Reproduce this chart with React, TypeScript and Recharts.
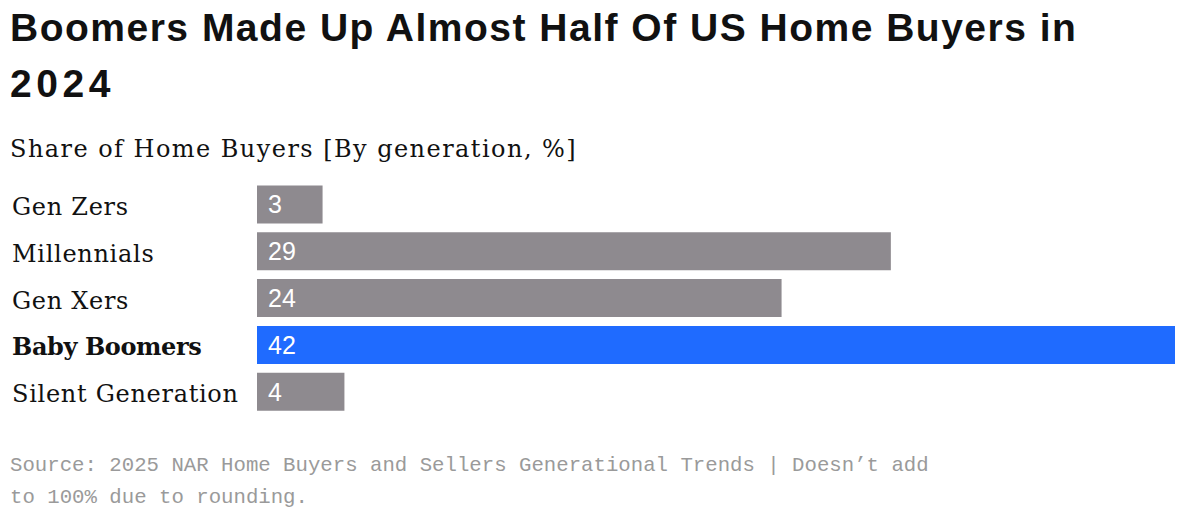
import React from "react";
import { BarChart, Bar, XAxis, YAxis, Cell, LabelList } from "recharts";

const categories = ["Gen Zers", "Millennials", "Gen Xers", "Baby Boomers", "Silent Generation"];
const shares = [3, 29, 24, 42, 4];
const highlighted = ["Baby Boomers"];

const title = "Boomers Made Up Almost Half Of US Home Buyers in";
const title2 = "2024";
const subtitle = "Share of Home Buyers [By generation, %]";
const source1 = "Source: 2025 NAR Home Buyers and Sellers Generational Trends | Doesn’t add";
const source2 = "to 100% due to rounding.";

const GREY = "#8e8a8f";
const BLUE = "#1f6bff";

const data = categories.map((c, i) => ({ name: c, value: shares[i] }));

const CategoryTick = (props: any) => {
  const { y, payload } = props;
  const bold = highlighted.includes(payload.value);
  return (
    <text
      x={12}
      y={y}
      dy={10}
      textAnchor="start"
      fontFamily="'DejaVu Serif', serif"
      fontSize={24}
      fontWeight={bold ? 700 : 400}
      letterSpacing={bold ? -0.4 : 0.7}
      fill="#111"
    >
      {payload.value}
    </text>
  );
};

export default function App() {
  return (
    <div
      style={{
        position: "fixed",
        left: 0,
        top: 0,
        width: 1198,
        height: 523,
        background: "#ffffff",
        overflow: "hidden",
      }}
    >
      <div
        style={{
          position: "absolute",
          left: 10,
          top: 0,
          fontFamily: "'Liberation Sans', Arial, sans-serif",
          fontWeight: 700,
          fontSize: 39,
          letterSpacing: 1.5,
          lineHeight: "56px",
          color: "#111",
          whiteSpace: "nowrap",
        }}
      >
        <div>{title}</div>
        <div style={{ letterSpacing: 4.6 }}>{title2}</div>
      </div>
      <div
        style={{
          position: "absolute",
          left: 10,
          top: 134,
          fontFamily: "'DejaVu Serif', serif",
          fontSize: 24,
          letterSpacing: 1.45,
          lineHeight: "30px",
          color: "#111",
          whiteSpace: "nowrap",
        }}
      >
        {subtitle}
      </div>
      <div style={{ position: "absolute", left: 0, top: 0 }}>
        <BarChart
          width={1198}
          height={523}
          layout="vertical"
          data={data}
          margin={{ top: 181.6, right: 23, bottom: 107.6, left: 12 }}
        >
          <XAxis type="number" domain={[0, 42]} hide />
          <YAxis
            type="category"
            dataKey="name"
            width={245}
            axisLine={false}
            tickLine={false}
            tick={<CategoryTick />}
            interval={0}
          />
          <Bar dataKey="value" barSize={38} isAnimationActive={false}>
            {data.map((d) => (
              <Cell key={d.name} fill={highlighted.includes(d.name) ? BLUE : GREY} />
            ))}
            <LabelList
              dataKey="value"
              position="insideLeft"
              offset={11}
              fill="#ffffff"
              fontFamily="'Liberation Sans', Arial, sans-serif"
              fontSize={25}
            />
          </Bar>
        </BarChart>
      </div>
      <div
        style={{
          position: "absolute",
          left: 10,
          top: 449.5,
          fontFamily: "'Liberation Mono', monospace",
          fontSize: 20.7,
          lineHeight: "32px",
          color: "#9a9a9a",
          whiteSpace: "nowrap",
        }}
      >
        <div>{source1}</div>
        <div>{source2}</div>
      </div>
    </div>
  );
}
